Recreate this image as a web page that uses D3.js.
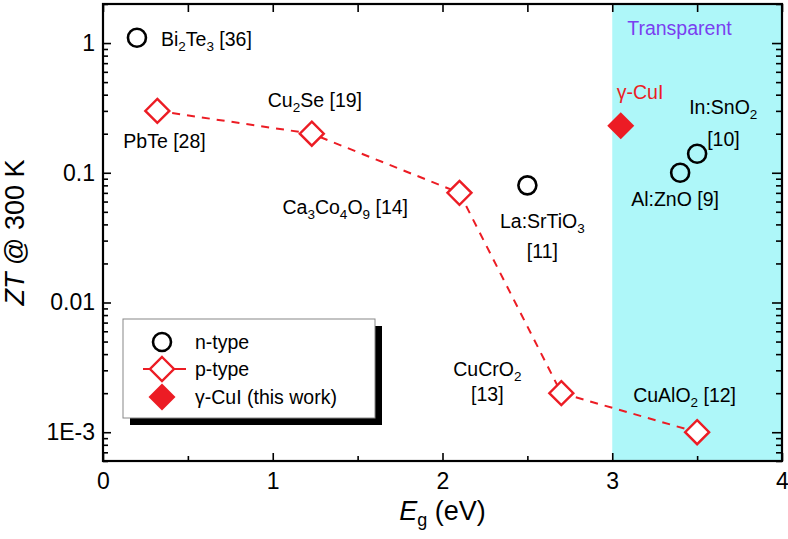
<!DOCTYPE html>
<html><head><meta charset="utf-8">
<script src="https://cdn.jsdelivr.net/npm/d3@7"></script>
<style>body{margin:0;background:#fff}svg{display:block;font-family:"Liberation Sans",Arial,sans-serif}</style>
</head><body><svg id="c" width="788" height="539"></svg>
<script>
// ---- data ----
const nNames = ["Bi_2Te_3 [36]", "La:SrTiO_3", "Al:ZnO [9]", "In:SnO_2"];
const nEg = [0.2, 2.5, 3.4, 3.5];
const nZT = [1.1, 0.08, 0.1, 0.14];
const pNames = ["PbTe [28]", "Cu_2Se [19]", "Ca_3Co_4O_9 [14]", "CuCrO_2", "CuAlO_2 [12]"];
const pEg = [0.32, 1.23, 2.1, 2.7, 3.5];
const pZT = [0.3, 0.2, 0.07, 0.002, 0.001];
const cuiEg = [3.05];
const cuiZT = [0.23];
const xTicks = [0, 1, 2, 3, 4];
const xMinor = [0.5, 1.5, 2.5, 3.5];
const yTicks = [1, 0.1, 0.01, 0.001];
const yTickLabels = ["1", "0.1", "0.01", "1E-3"];
const legendLabels = ["n-type", "p-type", "γ-CuI (this work)"];
const transparentRange = [3, 4];

const RED = "#ec1c24";
const FS = 19.5;
const svg = d3.select("#c");
const L = 103, R = 782, T = 4, B = 461;
const x = d3.scaleLinear().domain([0, 4]).range([L, R]);
const y = d3.scaleLog().domain([6e-4, 2]).range([B, T]);

// transparent region
svg.append("rect").attr("x", x(transparentRange[0])).attr("y", T)
  .attr("width", x(transparentRange[1]) - x(transparentRange[0])).attr("height", B - T)
  .attr("fill", "#aef7f9");
svg.append("text").attr("x", x(transparentRange[0]) + 15).attr("y", 35)
  .attr("font-size", FS).attr("fill", "#7a3ff0").text("Transparent");

// axes
const minorY = y.ticks().filter(v => !yTicks.some(t => Math.abs(t - v) / t < 1e-6));
function axisG(axis, tx, ty) {
  const g = svg.append("g").attr("transform", `translate(${tx},${ty})`).call(axis);
  g.select(".domain").remove();
  g.selectAll("line").attr("stroke", "#000").attr("stroke-width", 1.6);
  return g;
}
const fmt = d => yTickLabels[yTicks.indexOf(d)];
axisG(d3.axisLeft(y).tickValues(yTicks).tickSize(-8).tickPadding(8).tickFormat(fmt), L, 0)
  .selectAll("text").attr("font-size", 23).attr("fill", "#000").attr("font-family", "Liberation Sans, Arial");
axisG(d3.axisLeft(y).tickValues(minorY).tickSize(-5).tickFormat(""), L, 0);
axisG(d3.axisRight(y).tickValues(yTicks).tickSize(-10).tickFormat(""), R, 0);
axisG(d3.axisRight(y).tickValues(minorY).tickSize(-6).tickFormat(""), R, 0);
axisG(d3.axisBottom(x).tickValues(xTicks).tickSize(-8).tickPadding(12).tickFormat(d3.format("d")), 0, B)
  .selectAll("text").attr("font-size", 23).attr("fill", "#000").attr("font-family", "Liberation Sans, Arial");
axisG(d3.axisBottom(x).tickValues(xMinor).tickSize(-5).tickFormat(""), 0, B);
axisG(d3.axisTop(x).tickValues(xTicks.concat(xMinor)).tickSize(-8).tickFormat(""), 0, T);

// frame
svg.append("rect").attr("x", L).attr("y", T).attr("width", R - L).attr("height", B - T)
  .attr("fill", "none").attr("stroke", "#000").attr("stroke-width", 2.2);

// axis titles
const yt = svg.append("text").attr("transform", `translate(24,${(T + B) / 2}) rotate(-90)`)
  .attr("text-anchor", "middle").attr("font-size", 27);
yt.append("tspan").attr("font-style", "italic").text("ZT");
yt.append("tspan").text(" @ 300 K");
const xt = svg.append("text").attr("x", (L + R) / 2).attr("y", 520).attr("text-anchor", "middle").attr("font-size", 27);
xt.append("tspan").attr("font-style", "italic").text("E");
xt.append("tspan").attr("font-size", 18).attr("dy", 6).text("g");
xt.append("tspan").attr("dy", -6).text(" (eV)");

// p-type dashed line
const pData = pEg.map((e, i) => [e, pZT[i]]);
svg.append("path").datum(pData)
  .attr("d", d3.line().x(d => x(d[0])).y(d => y(d[1])))
  .attr("fill", "none").attr("stroke", RED).attr("stroke-width", 2).attr("stroke-dasharray", "8,7");

const diamond = s => `M0,${-s}L${s},0L0,${s}L${-s},0Z`;
// p-type markers
svg.selectAll(".pm").data(pData).join("path").attr("class", "pm")
  .attr("transform", d => `translate(${x(d[0])},${y(d[1])})`)
  .attr("d", diamond(12)).attr("fill", "#fff").attr("stroke", RED).attr("stroke-width", 2.4);
// n-type markers
const nData = nEg.map((e, i) => [e, nZT[i]]);
svg.selectAll(".nm").data(nData).join("circle").attr("class", "nm")
  .attr("cx", d => x(d[0])).attr("cy", d => y(d[1])).attr("r", 9)
  .attr("fill", "none").attr("stroke", "#000").attr("stroke-width", 2.6);
// CuI
svg.selectAll(".cm").data(cuiEg.map((e, i) => [e, cuiZT[i]])).join("path").attr("class", "cm")
  .attr("transform", d => `translate(${x(d[0])},${y(d[1])})`)
  .attr("d", diamond(13.5)).attr("fill", RED);

// labels with subscripts
function label(str, px, py, opts = {}) {
  const t = svg.append("text").attr("x", px).attr("y", py).attr("font-size", FS)
    .attr("fill", opts.fill || "#000").attr("text-anchor", opts.anchor || "start");
  const parts = str.split(/(_\d)/).filter(s => s.length);
  let sub = false;
  parts.forEach(p => {
    if (p[0] === "_") {
      t.append("tspan").attr("font-size", 13.5).attr("dy", sub ? 0 : 5).text(p.slice(1));
      sub = true;
    } else {
      t.append("tspan").attr("dy", sub ? -5 : 0).text(p);
      sub = false;
    }
  });
  return t;
}
const nLab = [[24, 8, "start"], [15, 43, "middle"], [-49, 33, "start"], [-8, -40, "start"]];
nData.forEach((d, i) => label(nNames[i], x(d[0]) + nLab[i][0], y(d[1]) + nLab[i][1], { anchor: nLab[i][2] }));
label("[11]", x(nEg[1]) + 15, y(nZT[1]) + 73, { anchor: "middle" });
label("[10]", x(nEg[3]) + 10, y(nZT[3]) - 8, { anchor: "start" });
const pLab = [[-34, 37, "start"], [-44, -27, "start"], [-177, 21, "start"], [-74, -17, "middle"], [-64, -30, "start"]];
pData.forEach((d, i) => label(pNames[i], x(d[0]) + pLab[i][0], y(d[1]) + pLab[i][1], { anchor: pLab[i][2] }));
label("[13]", x(pEg[3]) - 74, y(pZT[3]) + 8, { anchor: "middle" });
label("γ-CuI", x(cuiEg[0]) - 4, y(cuiZT[0]) - 27, { fill: RED });

// legend
const lg = svg.append("g");
lg.append("rect").attr("x", 130).attr("y", 326).attr("width", 252).attr("height", 99).attr("fill", "#000");
lg.append("rect").attr("x", 123).attr("y", 319).attr("width", 252).attr("height", 99)
  .attr("fill", "#fff").attr("stroke", "#888").attr("stroke-width", 1);
const rowY = [342, 369, 397];
lg.append("circle").attr("cx", 162).attr("cy", rowY[0]).attr("r", 9)
  .attr("fill", "none").attr("stroke", "#000").attr("stroke-width", 2.6);
lg.append("line").attr("x1", 143).attr("x2", 186).attr("y1", rowY[1]).attr("y2", rowY[1])
  .attr("stroke", RED).attr("stroke-width", 2);
lg.append("path").attr("transform", `translate(162,${rowY[1]})`).attr("d", diamond(12))
  .attr("fill", "#fff").attr("stroke", RED).attr("stroke-width", 2.4);
lg.append("path").attr("transform", `translate(162,${rowY[2]})`).attr("d", diamond(13.5)).attr("fill", RED);
legendLabels.forEach((t, i) => lg.append("text").attr("x", 195).attr("y", rowY[i] + 7).attr("font-size", FS).text(t));
</script></body></html>
